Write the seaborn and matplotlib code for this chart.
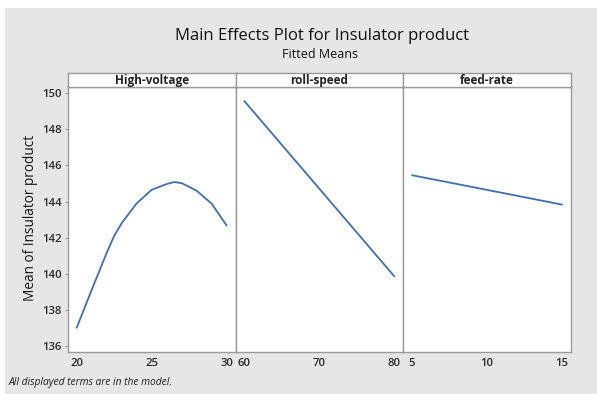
import matplotlib
matplotlib.use("Agg")
import matplotlib.pyplot as plt
import seaborn as sns
import pandas as pd
from matplotlib.patches import Rectangle

# ---- data ----
factors = ["High-voltage", "roll-speed", "feed-rate"]
hv_x = [20, 21, 22, 22.5, 23, 24, 25, 26, 26.5, 27, 28, 29, 30]
hv_y = [137.0, 139.1, 141.15, 142.1, 142.8, 143.9, 144.65, 144.97, 145.08, 145.02, 144.6, 143.88, 142.67]
rs_x = [60, 80]
rs_y = [149.57, 139.85]
fr_x = [5, 15]
fr_y = [145.46, 143.83]
hv_ticks = [20, 25, 30]
rs_ticks = [60, 70, 80]
fr_ticks = [5, 10, 15]
y_ticks = [136, 138, 140, 142, 144, 146, 148, 150]

series = [(hv_x, hv_y, hv_ticks), (rs_x, rs_y, rs_ticks), (fr_x, fr_y, fr_ticks)]

sns.set_theme(style="white")
plt.rcParams['font.family'] = ['Open Sans', 'DejaVu Sans']

W, H = 597, 394
fig = plt.figure(figsize=(W / 100, H / 100), dpi=100)
fig.patch.set_facecolor("white")
# gray panel background
fig.patches.append(Rectangle((5 / W, 0), 1 - 5 / W, 1 - 8 / H, transform=fig.transFigure,
                             facecolor="#e6e6e6", edgecolor="none", zorder=-10))

left_px, right_px = 68, 571
top_px, bottom_px = 86.5, 351.7
strip_top_px = 72.7
pw = (right_px - left_px) / 3
line_color = "#3f6fb0"
edge = "#9a9a9a"
tick_col = "#2a2a2a"

for i, (xs, ys, ticks) in enumerate(series):
    x0 = left_px + i * pw
    ax = fig.add_axes([x0 / W, 1 - bottom_px / H, pw / W, (bottom_px - top_px) / H])
    df = pd.DataFrame({"x": xs, "y": ys})
    sns.lineplot(data=df, x="x", y="y", ax=ax, color=line_color, linewidth=1.3)
    rng = ticks[-1] - ticks[0]
    ax.set_xlim(ticks[0] - 0.058 * rng, ticks[-1] + 0.06 * rng)
    ax.set_ylim(135.67, 150.38)
    ax.set_xticks(ticks)
    ax.set_xticklabels([str(t) for t in ticks], fontsize=8.2, color=tick_col, fontweight="semibold")
    ax.set_xlabel("")
    ax.set_ylabel("")
    ax.set_facecolor("white")
    for s in ax.spines.values():
        s.set_color(edge)
        s.set_linewidth(1.0)
    ax.tick_params(axis="x", direction="out", length=2.5, width=0.8, color=edge, pad=2)
    if i == 0:
        ax.set_yticks(y_ticks)
        ax.set_yticklabels([str(t) for t in y_ticks], fontsize=8.2, color=tick_col, fontweight="semibold")
        ax.tick_params(axis="y", direction="out", length=2.5, width=0.8, color=edge, pad=2, left=True)
    else:
        ax.set_yticks([])
    # strip
    sax = fig.add_axes([x0 / W, 1 - top_px / H, pw / W, (top_px - strip_top_px) / H])
    sax.set_xticks([])
    sax.set_yticks([])
    sax.set_facecolor("white")
    for s in sax.spines.values():
        s.set_color(edge)
        s.set_linewidth(1.0)
    sax.text(0.5, 0.45, factors[i], transform=sax.transAxes, ha="center", va="center",
             fontsize=8.5, fontweight="bold", color="#222222")

fig.text(322 / W, 1 - 36 / H, "Main Effects Plot for Insulator product", ha="center", va="center",
         fontsize=12, color="#111111")
fig.text(320 / W, 1 - 55 / H, "Fitted Means", ha="center", va="center",
         fontsize=9, color="#111111")
fig.text(31 / W, 1 - 218 / H, "Mean of Insulator product", ha="center", va="center",
         rotation=90, fontsize=9.8, color="#111111")
fig.text(9 / W, 1 - 382 / H, "All displayed terms are in the model.", ha="left", va="center",
         fontsize=7.4, style="italic", color="#222222")

fig.savefig("out.png", dpi=100)
